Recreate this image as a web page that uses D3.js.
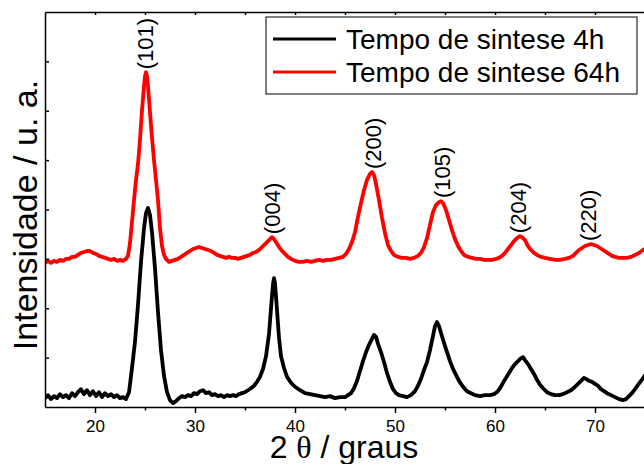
<!DOCTYPE html>
<html>
<head>
<meta charset="utf-8">
<script src="https://cdn.jsdelivr.net/npm/d3@7"></script>
<style>
  html, body { margin: 0; padding: 0; background: #fff; }
  svg { display: block; }
  text { font-family: "Liberation Sans", Arial, Helvetica, sans-serif; fill: #000; }
</style>
</head>
<body>
<svg id="chart" width="644" height="464"></svg>
<script>
// XRD patterns, synthesis time 4 h (black) and 64 h (red)
const twoTheta4h = [
  15.0,15.3,15.6,15.9,16.2,16.5,16.8,17.1,17.4,17.7,18.0,18.3,18.6,18.9,19.2,19.5,19.8,20.1,20.4,20.7,
  21.0,21.3,21.6,21.9,22.2,22.5,22.8,23.1,23.4,23.7,24.0,24.3,24.6,24.9,25.1,25.3,25.5,25.7,26.0,26.3,
  26.6,26.9,27.2,27.5,27.8,28.1,28.4,28.7,29.0,29.3,29.6,29.9,30.2,30.5,30.8,31.1,31.4,31.7,32.0,32.3,
  32.6,32.9,33.2,33.5,33.8,34.1,34.4,34.7,35.0,35.3,35.6,35.9,36.2,36.5,36.8,37.1,37.4,37.6,37.8,37.9,
  38.0,38.2,38.4,38.6,38.9,39.2,39.6,40.0,40.5,41.0,41.5,42.0,42.5,43.0,43.5,44.0,44.5,45.0,45.3,45.6,
  45.9,46.2,46.5,46.8,47.1,47.4,47.7,47.9,48.1,48.3,48.6,48.9,49.2,49.5,49.8,50.1,50.4,50.8,51.2,51.6,
  52.0,52.3,52.6,52.9,53.2,53.5,53.8,54.0,54.2,54.4,54.6,54.9,55.2,55.5,55.8,56.1,56.4,56.8,57.2,57.6,
  58.0,58.5,59.0,59.5,59.9,60.2,60.5,60.8,61.1,61.4,61.7,62.0,62.3,62.6,62.8,63.0,63.3,63.6,63.9,64.2,
  64.5,64.8,65.2,65.6,66.0,66.4,66.8,67.2,67.6,68.0,68.3,68.6,68.9,69.1,69.4,69.7,70.0,70.3,70.6,70.9,
  71.2,71.6,72.0,72.4,72.8,73.1,73.4,73.7,74.0,74.3,74.6,74.9,75.0
];
const intensity4h = [
  18,24,16,22,18,26,20,24,18,28,22,30,36,26,34,24,32,22,30,20,
  28,22,26,20,24,18,20,16,30,79,132,207,294,362,393,403,389,354,281,192,
  115,63,30,14,8,12,18,22,20,24,22,28,26,32,34,28,30,24,26,22,
  24,20,24,22,24,22,26,28,30,34,38,43,51,61,77,103,148,200,249,261,
  251,196,140,103,79,61,49,41,34,28,26,24,22,20,22,18,20,20,24,28,
  38,53,73,93,111,126,138,146,142,128,111,91,69,51,36,28,24,22,20,24,
  32,43,57,75,91,115,144,164,172,164,150,130,111,93,77,65,53,41,32,28,
  24,22,24,24,26,30,38,49,59,69,79,87,93,99,101,95,87,77,67,55,
  45,38,30,26,24,24,26,30,34,41,47,53,59,57,53,51,47,43,36,32,
  28,24,20,16,14,16,22,28,36,45,53,61,65
];

const twoTheta64h = [
  15.0,15.3,15.6,15.9,16.2,16.5,16.8,17.1,17.4,17.7,18.0,18.3,18.6,18.9,19.2,19.5,19.8,20.1,20.4,20.7,
  21.0,21.3,21.6,21.9,22.2,22.5,22.8,23.1,23.3,23.5,23.7,23.9,24.1,24.3,24.5,24.7,24.9,25.0,25.1,25.2,
  25.3,25.5,25.7,25.9,26.1,26.3,26.5,26.7,26.9,27.1,27.4,27.7,28.0,28.3,28.6,28.9,29.2,29.5,29.8,30.1,
  30.4,30.7,31.0,31.3,31.6,31.9,32.2,32.5,32.8,33.1,33.4,33.7,34.0,34.3,34.6,34.9,35.2,35.5,35.8,36.1,
  36.4,36.7,37.0,37.3,37.5,37.7,37.9,38.1,38.4,38.7,39.0,39.3,39.6,40.0,40.4,40.8,41.2,41.6,42.0,42.4,
  42.8,43.2,43.6,44.0,44.4,44.8,45.1,45.4,45.7,46.0,46.3,46.6,46.9,47.2,47.5,47.7,47.9,48.1,48.4,48.7,
  49.0,49.3,49.6,49.9,50.3,50.7,51.1,51.5,51.9,52.3,52.6,52.9,53.2,53.5,53.8,54.1,54.4,54.6,54.8,55.1,
  55.4,55.7,56.0,56.3,56.6,56.9,57.3,57.7,58.1,58.5,58.9,59.3,59.7,60.1,60.4,60.7,61.0,61.3,61.6,61.9,
  62.2,62.5,62.7,63.0,63.3,63.6,63.9,64.2,64.6,65.0,65.5,66.0,66.5,67.0,67.4,67.8,68.1,68.4,68.7,69.0,
  69.3,69.6,69.9,70.2,70.5,70.8,71.1,71.4,71.7,72.0,72.4,72.8,73.2,73.6,74.0,74.4,74.8,75.0
];
const intensity64h = [
  292,296,292,296,294,298,296,300,300,304,304,308,312,314,316,316,312,310,306,304,
  302,300,298,300,296,298,296,300,306,332,375,419,460,492,541,601,650,670,678,670,
  650,597,545,500,460,419,362,326,308,300,294,296,298,300,304,308,312,316,320,322,
  324,322,320,318,316,312,308,306,304,302,304,302,302,300,302,304,306,308,312,314,
  318,324,330,336,340,344,340,334,324,316,310,304,300,296,294,294,296,294,296,298,
  296,298,298,300,302,304,310,320,334,354,385,413,439,460,472,476,470,452,419,383,
  352,328,316,308,304,302,302,300,302,306,312,324,342,369,395,409,415,417,413,399,
  379,358,340,326,316,308,304,302,300,300,298,298,298,300,302,306,312,320,328,336,
  342,346,344,338,326,318,312,308,304,302,300,298,298,300,302,306,312,318,322,326,
  328,330,328,326,322,318,314,310,306,304,302,302,302,304,308,312,318,320
];

// Miller indices marked over the 64 h pattern
const hklLabels = ["(101)", "(004)", "(200)", "(105)", "(204)", "(220)"];
const hklAngles = [25.0, 37.7, 47.8, 54.7, 62.3, 69.3];

const xTicksMajor = [20, 30, 40, 50, 60, 70];
const xTicksMinor = [25, 35, 45, 55, 65];
const yTicks = [100, 200, 300, 400, 500, 600, 700];

const legendNames = ["Tempo de sintese 4h", "Tempo de sintese 64h"];
const seriesColors = ["#000000", "#ff0000"];

const svg = d3.select("#chart");
const plotLeft = 45, plotRight = 645, plotTop = 12, plotBottom = 407;

const x = d3.scaleLinear().domain([15, 75]).range([plotLeft, plotRight]);
const y = d3.scaleLinear().domain([0, 800]).range([plotBottom, plotTop]);

svg.append("defs").append("clipPath").attr("id", "plotClip")
  .append("rect").attr("x", plotLeft).attr("y", plotTop - 10)
  .attr("width", 644 - plotLeft).attr("height", plotBottom - plotTop + 10);

const line = d3.line().x(d => x(d[0])).y(d => y(d[1]));
const series = [
  d3.zip(twoTheta4h, intensity4h),
  d3.zip(twoTheta64h, intensity64h)
];

const plot = svg.append("g").attr("clip-path", "url(#plotClip)");
series.forEach((pts, i) => {
  plot.append("path")
    .datum(pts)
    .attr("fill", "none")
    .attr("stroke", seriesColors[i])
    .attr("stroke-width", 3.8)
    .attr("stroke-linejoin", "round")
    .attr("d", line);
});

// Bottom axis: labelled major ticks plus unlabelled minor ticks
const xAxis = svg.append("g").attr("transform", `translate(0,${plotBottom})`)
  .call(d3.axisBottom(x).tickValues(xTicksMajor).tickSizeInner(6).tickSizeOuter(0).tickPadding(7));
svg.append("g").attr("transform", `translate(0,${plotBottom})`)
  .call(d3.axisBottom(x).tickValues(xTicksMinor).tickSizeInner(3.5).tickSizeOuter(0).tickFormat(""))
  .select(".domain").remove();
xAxis.selectAll("text").attr("font-size", 17).attr("font-family", "Liberation Sans, Arial, sans-serif");

// Left axis with inward ticks, no labels
svg.append("g").attr("transform", `translate(${plotLeft},0)`)
  .call(d3.axisLeft(y).tickValues(yTicks).tickSizeInner(-4).tickSizeOuter(0).tickFormat(""));

// Top frame line with small inward ticks
svg.append("g").attr("transform", `translate(0,${plotTop})`)
  .call(d3.axisTop(x).tickValues(xTicksMajor.concat(xTicksMinor)).tickSizeInner(-3).tickSizeOuter(0).tickFormat(""));

svg.selectAll(".domain, .tick line").attr("stroke", "#000").attr("stroke-width", 1.5);

// Peak labels, rotated, just above the 64 h maxima
const pts64 = series[1];
hklLabels.forEach((lab, i) => {
  const a = hklAngles[i];
  const near = pts64.filter(p => Math.abs(p[0] - a) <= 0.6);
  const peak = d3.max(near, p => p[1]);
  svg.append("text")
    .attr("transform", `translate(${x(a)},${y(peak) - 3}) rotate(-90)`)
    .attr("text-anchor", "start")
    .attr("dy", "0.36em")
    .attr("font-size", 22)
    .text(lab);
});

// Axis titles
const xt = svg.append("text")
  .attr("x", 344).attr("y", 458)
  .attr("text-anchor", "middle")
  .attr("font-size", 32);
xt.append("tspan").text("2 ");
xt.append("tspan").attr("font-family", "Liberation Serif, Times New Roman, serif").text("θ");
xt.append("tspan").text(" / graus");

svg.append("text")
  .attr("transform", "translate(37,215) rotate(-90)")
  .attr("text-anchor", "middle")
  .attr("font-size", 34)
  .text("Intensidade / u. a.");

// Legend
const lg = svg.append("g");
lg.append("rect")
  .attr("x", 266).attr("y", 17).attr("width", 371).attr("height", 77)
  .attr("fill", "#fff").attr("stroke", "#000").attr("stroke-width", 1);
legendNames.forEach((name, i) => {
  const yy = 39 + i * 33;
  lg.append("line").attr("x1", 273).attr("x2", 336).attr("y1", yy).attr("y2", yy)
    .attr("stroke", seriesColors[i]).attr("stroke-width", 3);
  lg.append("text").attr("x", 346).attr("y", yy + 9.5)
    .attr("font-size", 28).text(name);
});
</script>
</body>
</html>
